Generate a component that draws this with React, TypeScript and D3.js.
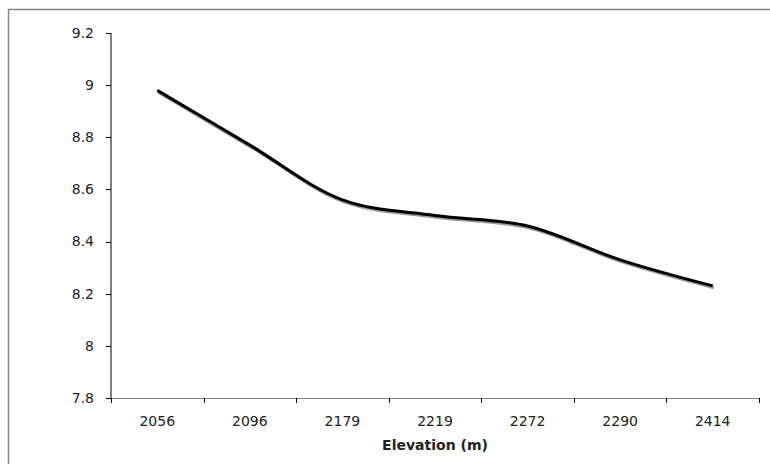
import React from "react";
import * as d3 from "d3";

const categories = ["2056", "2096", "2179", "2219", "2272", "2290", "2414"];
const values = [8.98, 8.77, 8.56, 8.5, 8.46, 8.33, 8.23];
const yTicks = [7.8, 8, 8.2, 8.4, 8.6, 8.8, 9, 9.2];
const xTitle = "Elevation (m)";

const W = 770;
const H = 464;
const plot = { left: 111, right: 759, top: 33, bottom: 398 };
const font = "Verdana, 'DejaVu Sans', sans-serif";

export default function App() {
  const x = d3
    .scaleBand<string>()
    .domain(categories)
    .range([plot.left, plot.right]);
  const y = d3.scaleLinear().domain([7.8, 9.2]).range([plot.bottom, plot.top]);

  const line = d3
    .line<number>()
    .x((_, i) => (x(categories[i]) as number) + x.bandwidth() / 2)
    .y((d) => y(d))
    .curve(d3.curveCatmullRom.alpha(0.5));
  const path = line(values) || "";

  const boundaries = d3.range(categories.length + 1).map(
    (i) => plot.left + i * x.bandwidth()
  );

  return (
    <svg
      width={W}
      height={H}
      style={{ position: "absolute", left: 0, top: 0, display: "block", background: "#fff" }}
    >
      {/* chart frame, running past the right and bottom edges */}
      <rect x={8.5} y={9.5} width={W + 20} height={H + 20} fill="#fff" stroke="#888" strokeWidth={1.5} />

      {/* y axis */}
      <line x1={plot.left} x2={plot.left} y1={plot.top} y2={plot.bottom} stroke="#000" strokeWidth={1} />
      {yTicks.map((t) => (
        <g key={t}>
          <line x1={plot.left - 5} x2={plot.left} y1={Math.round(y(t)) + 0.5} y2={Math.round(y(t)) + 0.5} stroke="#000" />
          <text
            x={plot.left - 17}
            y={y(t)}
            dy="0.35em"
            textAnchor="end"
            fontFamily={font}
            fontSize={14}
            fill="#222"
          >
            {t}
          </text>
        </g>
      ))}

      {/* x axis */}
      <line x1={plot.left} x2={plot.right} y1={plot.bottom + 0.5} y2={plot.bottom + 0.5} stroke="#808080" strokeWidth={1} />
      {boundaries.map((bx, i) => (
        <line key={i} x1={Math.round(bx) + 0.5} x2={Math.round(bx) + 0.5} y1={plot.bottom} y2={plot.bottom + 5} stroke="#000" />
      ))}
      {categories.map((c) => (
        <text
          key={c}
          x={(x(c) as number) + x.bandwidth() / 2}
          y={plot.bottom + 28}
          textAnchor="middle"
          fontFamily={font}
          fontSize={14}
          fill="#222"
        >
          {c}
        </text>
      ))}
      <text
        x={(plot.left + plot.right) / 2}
        y={plot.bottom + 52}
        textAnchor="middle"
        fontFamily={font}
        fontSize={14}
        fontWeight="bold"
        fill="#222"
      >
        {xTitle}
      </text>

      {/* series with drop shadow */}
      <path d={path} fill="none" stroke="#999" strokeWidth={3} transform="translate(1,1.8)" />
      <path d={path} fill="none" stroke="#000" strokeWidth={3} />
    </svg>
  );
}
